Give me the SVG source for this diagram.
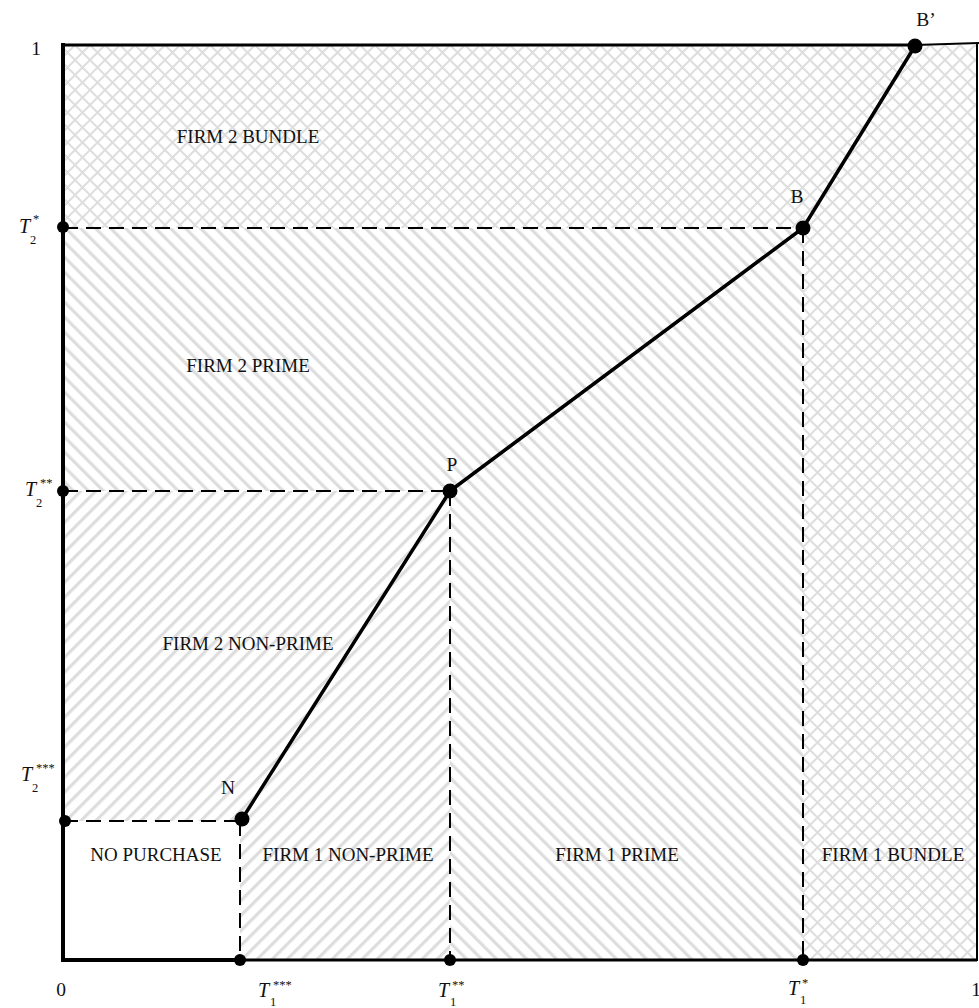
<svg xmlns="http://www.w3.org/2000/svg" width="979" height="1008" viewBox="0 0 979 1008">
<defs>
<pattern id="cross" patternUnits="userSpaceOnUse" width="15" height="15">
<path d="M-1,-1 L16,16 M16,-1 L-1,16" stroke="#dedede" stroke-width="2" fill="none"/>
</pattern>
<pattern id="back" patternUnits="userSpaceOnUse" width="10.6" height="20" patternTransform="rotate(-45)">
<rect x="0" y="0" width="3.2" height="20" fill="#dddddd"/>
</pattern>
<pattern id="fwd" patternUnits="userSpaceOnUse" width="10.6" height="20" patternTransform="rotate(45)">
<rect x="0" y="0" width="3.2" height="20" fill="#dddddd"/>
</pattern>
<style>
.lbl{font-family:"Liberation Serif","Times New Roman",serif;font-size:19px;fill:#111;text-anchor:middle}
.pt{font-family:"Liberation Serif","Times New Roman",serif;font-size:19.5px;fill:#111;text-anchor:middle}
.tv{font-family:"Liberation Serif","Times New Roman",serif;font-size:20px;fill:#111;font-style:italic}
.sm{font-size:12.5px;font-style:normal}
.dash{stroke:#000;stroke-width:2;stroke-dasharray:15 8;fill:none}
.axis{stroke:#000;fill:none;stroke-linecap:square}
.curve{stroke:#000;stroke-width:3.5;fill:none;stroke-linejoin:round}
</style>
</defs>
<rect width="979" height="1008" fill="#fff"/>
<g id="regions">
<rect id="bundle-area" x="63" y="45" width="914" height="915" fill="url(#cross)"/>
<polygon id="prime-area" points="63,228 803,228 803,960 450,960 450,491 63,491" fill="#fff"/>
<polygon id="prime-hatch" points="63,228 803,228 803,960 450,960 450,491 63,491" fill="url(#back)"/>
<polygon id="nonprime-area" points="63,491 450,491 450,960 240,960 240,821 63,821" fill="#fff"/>
<polygon id="nonprime-hatch" points="63,491 450,491 450,960 240,960 240,821 63,821" fill="url(#fwd)"/>
<rect id="no-purchase-area" x="63" y="821" width="177" height="139" fill="#fff"/>
</g>
<g id="axes">
<line class="axis" x1="63" y1="45" x2="63" y2="960" stroke-width="4"/>
<line class="axis" x1="63" y1="45" x2="915" y2="45" stroke-width="3"/>
<path d="M915,45 L979,43" stroke="#000" stroke-width="2" fill="none"/>
<line class="axis" x1="63" y1="960" x2="240" y2="960" stroke-width="4"/>
<line x1="240" y1="960" x2="977" y2="960" stroke="#000" stroke-width="3"/>
<line x1="977" y1="44" x2="977" y2="961" stroke="#000" stroke-width="2"/>
</g>
<g id="connectors">
<line class="dash" x1="63" y1="228" x2="803" y2="228"/>
<line class="dash" x1="63" y1="491" x2="450" y2="491"/>
<line class="dash" x1="63" y1="821" x2="242" y2="821"/>
<line class="dash" x1="240" y1="821" x2="240" y2="960"/>
<line class="dash" x1="450" y1="491" x2="450" y2="960"/>
<line class="dash" x1="803" y1="228" x2="803" y2="960"/>
<polyline class="curve" points="242,819 450,491 803,228 915,46"/>
</g>
<g id="point-N"><circle cx="242" cy="819" r="7.5"/><text class="pt" x="228" y="794">N</text></g>
<g id="point-P"><circle cx="450" cy="491" r="7.5"/><text class="pt" x="452" y="471">P</text></g>
<g id="point-B"><circle cx="803" cy="228" r="7.5"/><text class="pt" x="797" y="203">B</text></g>
<g id="point-Bp"><circle cx="915" cy="46" r="7.5"/><text class="pt" x="926" y="26">B’</text></g>
<g id="axis-ticks">
<circle cx="63" cy="227" r="6"/>
<circle cx="63" cy="491" r="6"/>
<circle cx="65" cy="821" r="6"/>
<circle cx="240" cy="960" r="6"/>
<circle cx="450" cy="960" r="6"/>
<circle cx="803" cy="960" r="6"/>
</g>
<g id="axis-labels">
<text class="pt" x="36" y="55">1</text>
<text class="pt" x="61" y="996">0</text>
<text class="pt" x="976" y="996">1</text>
<text class="tv" x="19" y="233">T<tspan class="sm" x="30" y="244">2</tspan><tspan class="sm" x="33" y="223">*</tspan></text>
<text class="tv" x="25" y="496">T<tspan class="sm" x="36" y="507">2</tspan><tspan class="sm" x="40" y="487">**</tspan></text>
<text class="tv" x="21" y="781">T<tspan class="sm" x="32" y="792">2</tspan><tspan class="sm" x="36" y="772">***</tspan></text>
<text class="tv" x="258" y="997">T<tspan class="sm" x="270" y="1006">1</tspan><tspan class="sm" x="273" y="989">***</tspan></text>
<text class="tv" x="438" y="997">T<tspan class="sm" x="450" y="1006">1</tspan><tspan class="sm" x="452" y="989">**</tspan></text>
<text class="tv" x="788" y="995">T<tspan class="sm" x="800" y="1004">1</tspan><tspan class="sm" x="802" y="987">*</tspan></text>
</g>
<g id="region-labels">
<text class="lbl" x="248" y="143">FIRM 2 BUNDLE</text>
<text class="lbl" x="248" y="372">FIRM 2 PRIME</text>
<text class="lbl" x="248" y="650">FIRM 2 NON-PRIME</text>
<text class="lbl" x="156" y="861">NO PURCHASE</text>
<text class="lbl" x="348" y="861">FIRM 1 NON-PRIME</text>
<text class="lbl" x="617" y="861">FIRM 1 PRIME</text>
<text class="lbl" x="893" y="861">FIRM 1 BUNDLE</text>
</g>
</svg>
